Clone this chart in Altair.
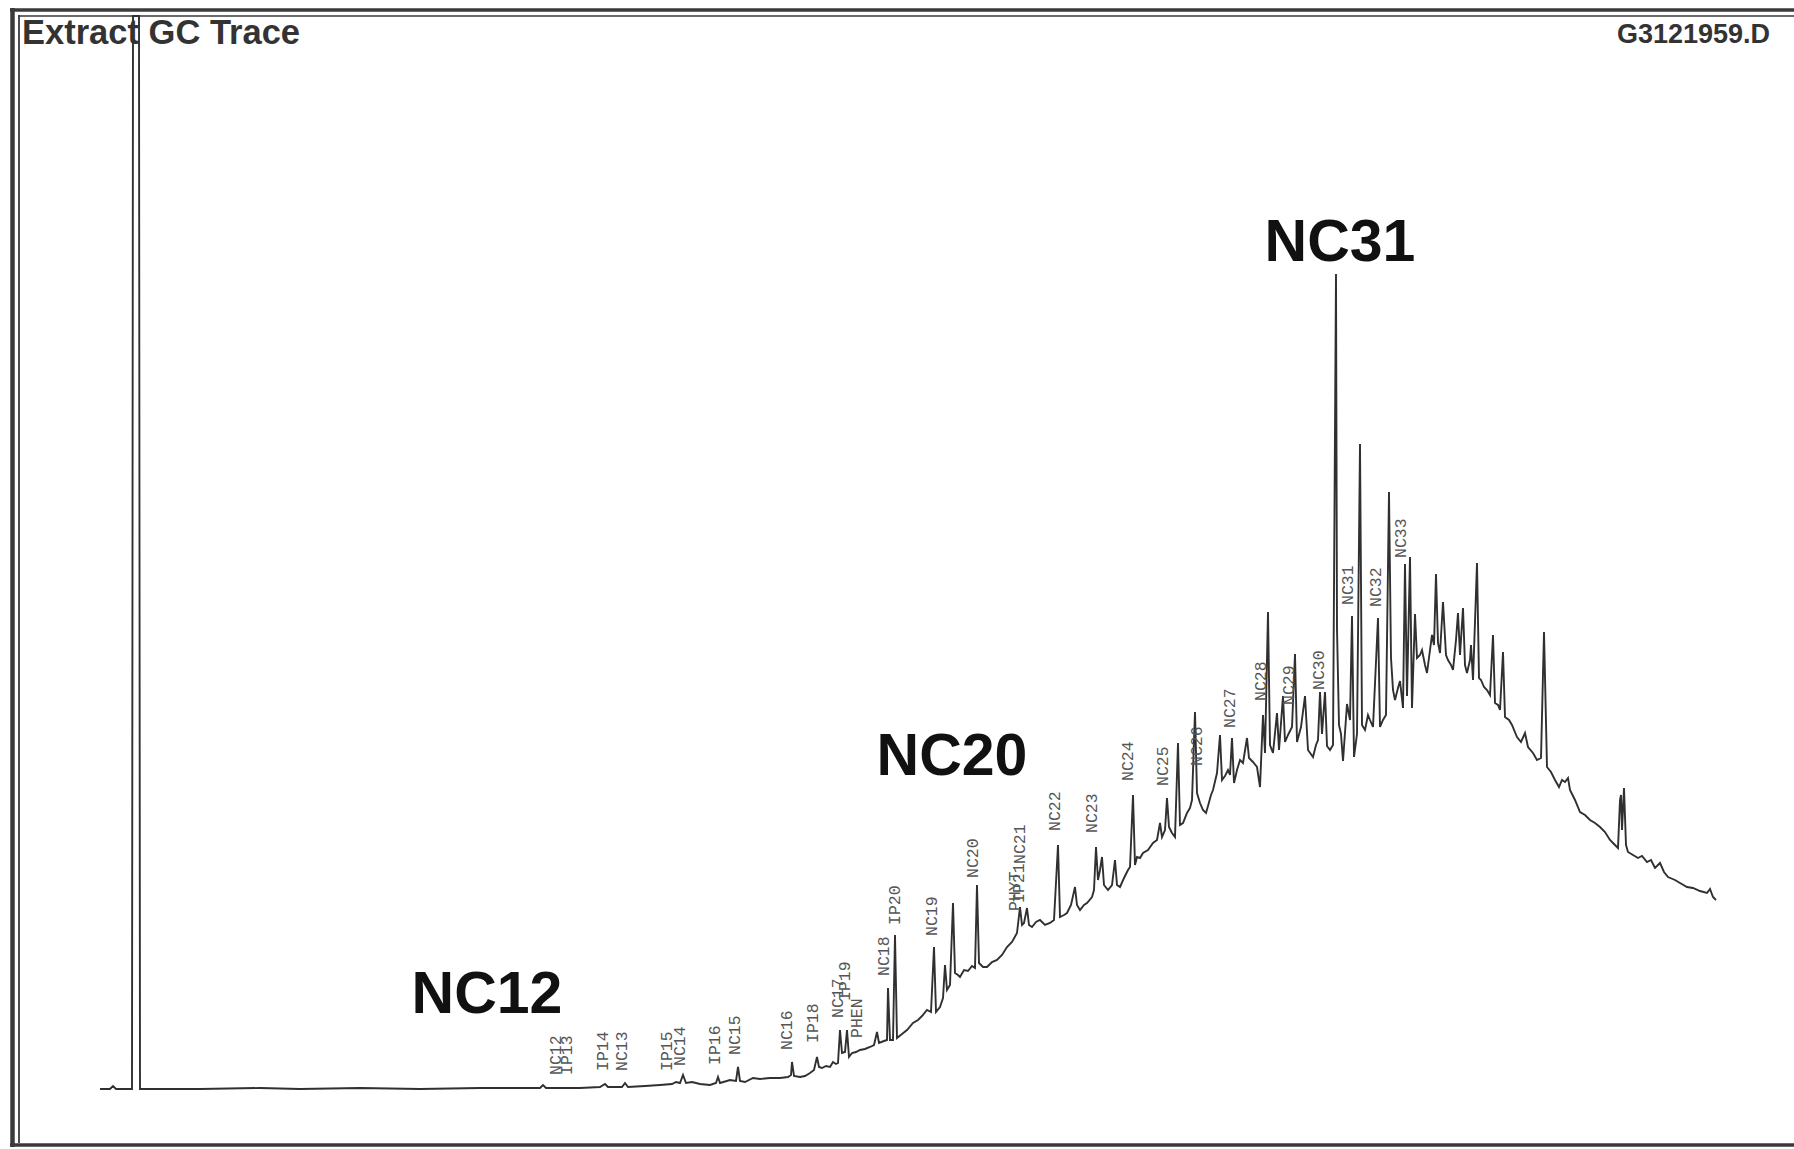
import altair as alt
import pandas as pd

# ---- trace (scan number, abundance counts) ----
trace_scan = [0,10,13,16,32,33,39,40,100,160,200,260,320,380,440,443,446,480,500,505,508,522,525,528,545,560,572,576,580,583,586,592,600,610,616,618,620,630,636,638,640,645,653,660,670,680,688,691,692,694,700,705,710,714,717,719,722,726,730,733,736,738,740,742,745,747,749,752,756,760,765,770,774,777,779,784,787,788,790,793,795,797,802,807,813,818,822,827,831,834,836,840,843,845,847,850,853,855,858,860,864,868,872,875,877,879,883,887,892,897,902,907,912,917,920,922,924,927,929,932,936,940,945,950,954,958,960,964,967,971,975,977,980,984,987,992,994,996,998,1000,1002,1004,1008,1012,1015,1017,1020,1024,1028,1030,1033,1035,1037,1040,1043,1048,1053,1057,1060,1062,1065,1067,1069,1072,1075,1078,1080,1083,1087,1090,1092,1095,1097,1100,1103,1106,1108,1111,1113,1117,1120,1122,1125,1128,1130,1132,1134,1137,1140,1143,1147,1149,1153,1157,1160,1163,1165,1168,1170,1173,1177,1179,1183,1185,1188,1192,1195,1197,1201,1205,1208,1213,1216,1218,1220,1222,1225,1227,1230,1233,1236,1237,1239,1241,1243,1247,1250,1252,1254,1257,1260,1262,1265,1268,1270,1273,1278,1280,1283,1286,1289,1291,1293,1295,1298,1300,1303,1305,1307,1310,1312,1315,1317,1320,1322,1325,1327,1330,1332,1334,1336,1338,1340,1343,1346,1348,1351,1353,1356,1358,1360,1363,1365,1367,1370,1371,1373,1377,1379,1381,1384,1387,1390,1393,1395,1398,1400,1403,1405,1409,1412,1417,1421,1425,1428,1433,1437,1441,1444,1447,1451,1455,1459,1462,1465,1468,1470,1475,1480,1485,1490,1495,1500,1505,1510,1515,1518,1520,1521,1522,1524,1526,1528,1533,1538,1542,1547,1551,1555,1560,1564,1568,1575,1580,1587,1593,1600,1607,1610,1613,1616]
trace_abund = [0,0,3,0,0,1073,1073,0,0,1,0,1,0,1,1,4,1,1,2,5,2,2,6,2,3,4,5,7,6,14,6,7,5,4,6,12,6,9,8,22,8,7,11,10,11,11,12,14,27,13,12,13,16,19,32,22,21,23,22,27,25,26,59,36,37,59,32,36,37,39,40,42,44,57,46,48,49,101,49,49,154,51,55,59,66,69,73,79,77,142,77,82,91,124,99,104,186,116,114,112,119,118,123,121,204,126,122,122,127,129,134,142,147,156,182,164,166,181,164,162,167,169,164,166,169,244,172,174,176,184,202,184,179,184,186,192,199,242,209,219,232,204,199,204,229,204,202,211,219,222,294,224,232,231,236,239,246,249,266,252,259,291,262,256,252,346,264,266,276,281,289,377,296,286,279,276,283,294,299,316,354,309,313,319,314,351,306,319,329,326,351,331,327,322,302,374,336,477,344,336,376,339,393,347,354,362,435,347,362,393,339,332,344,349,397,355,397,343,339,344,815,460,364,355,328,385,369,473,332,355,645,364,359,374,369,362,471,362,369,374,597,431,399,389,401,408,381,525,393,532,381,475,431,434,439,424,416,439,454,444,515,446,436,487,434,429,424,419,449,476,434,481,424,416,429,444,409,526,411,409,402,399,394,454,386,384,379,437,372,369,364,352,347,356,342,336,329,331,457,322,317,309,302,309,307,311,299,289,277,274,269,266,262,257,249,244,241,289,294,259,301,244,237,234,231,233,227,229,221,226,217,212,209,206,202,201,198,196,200,192,189]

# ---- small rotated peak labels ----
peak_names = ["NC12","IP13","IP14","NC13","IP15","NC14","IP16","NC15","NC16","IP18","NC17","IP19","PHEN","NC18","IP20","NC19","NC20","PHYT","IP21","NC21","NC22","NC23","NC24","NC25","NC26","NC27","NC28","NC29","NC30","NC31","NC32","NC33"]
peak_scan = [456,467,503,522,567,580,615,635,687,713,738,745,757,784,795,832,873,915,919,920,955,992,1028,1063,1097,1130,1161,1189,1219,1248,1276,1301]
peak_label_abund = [12,12,16,16,16,21,22,32,37,44,69,86,49,111,162,151,209,176,184,223,256,254,306,301,321,359,386,382,397,482,480,529]

# ---- large annotations ----
big_names = ["NC12","NC20","NC31"]
big_scan = [387,852,1240]
big_abund = [76,314,828]

title_text = "Extract GC Trace"
file_text = "G3121959.D"

W, H = 1794, 1149
xs = alt.Scale(domain=[-100, 1694], nice=False, zero=False)
ys = alt.Scale(domain=[-60, 1089], nice=False, zero=False)

trace = pd.DataFrame({"scan": trace_scan, "abund": trace_abund, "i": range(len(trace_scan))})
peaks = pd.DataFrame({"name": peak_names, "scan": peak_scan, "abund": peak_label_abund})
bigs = pd.DataFrame({"name": big_names, "scan": big_scan, "abund": big_abund})

line = alt.Chart(trace).mark_line(color="#303030", strokeWidth=1.9, clip=True).encode(
    x=alt.X("scan:Q", scale=xs, axis=None),
    y=alt.Y("abund:Q", scale=ys, axis=None),
    order=alt.Order("i:Q"),
)

plabels = alt.Chart(peaks).mark_text(
    angle=270, align="left", baseline="middle", font="Liberation Mono",
    fontSize=16.5, color="#555555", dx=2,
).encode(x=alt.X("scan:Q", scale=xs, axis=None), y=alt.Y("abund:Q", scale=ys, axis=None), text="name:N")

blabels = alt.Chart(bigs).mark_text(
    align="center", baseline="alphabetic", font="Liberation Sans",
    fontSize=59, fontWeight="bold", color="#111111",
).encode(x=alt.X("scan:Q", scale=xs, axis=None), y=alt.Y("abund:Q", scale=ys, axis=None), text="name:N")

title = alt.Chart(pd.DataFrame({"t": [title_text]})).mark_text(
    align="left", baseline="alphabetic", font="Liberation Sans", fontSize=34.5,
    fontWeight="bold", color="#333333",
).encode(x=alt.value(22), y=alt.value(44), text="t:N")

fname = alt.Chart(pd.DataFrame({"t": [file_text]})).mark_text(
    align="right", baseline="alphabetic", font="Liberation Sans", fontSize=27,
    fontWeight="bold", color="#333333",
).encode(x=alt.value(1770), y=alt.value(43), text="t:N")

frame_color = "#3a3a3a"
top_outer = alt.Chart(pd.DataFrame({"k": [0]})).mark_rule(color=frame_color, strokeWidth=3.5).encode(
    x=alt.value(10), x2=alt.value(W), y=alt.value(10))
top_inner = alt.Chart(pd.DataFrame({"k": [0]})).mark_rule(color=frame_color, strokeWidth=1.5).encode(
    x=alt.value(18), x2=alt.value(W), y=alt.value(16))
left_outer = alt.Chart(pd.DataFrame({"k": [0]})).mark_rule(color=frame_color, strokeWidth=4.5).encode(
    x=alt.value(12.5), y=alt.value(8), y2=alt.value(1147))
left_inner = alt.Chart(pd.DataFrame({"k": [0]})).mark_rule(color=frame_color, strokeWidth=1.8).encode(
    x=alt.value(19), y=alt.value(15), y2=alt.value(1143))
bottom = alt.Chart(pd.DataFrame({"k": [0]})).mark_rule(color=frame_color, strokeWidth=3.5).encode(
    x=alt.value(10), x2=alt.value(W), y=alt.value(1145))

chart = alt.layer(
    top_outer, top_inner, left_outer, left_inner, bottom,
    line, plabels, blabels, title, fname,
).properties(
    width=W, height=H, padding=0, autosize=alt.AutoSizeParams(type="none"),
    background="white",
).configure_view(stroke=None)

chart.save("out.html", embed_options={"renderer": "svg", "actions": False})
